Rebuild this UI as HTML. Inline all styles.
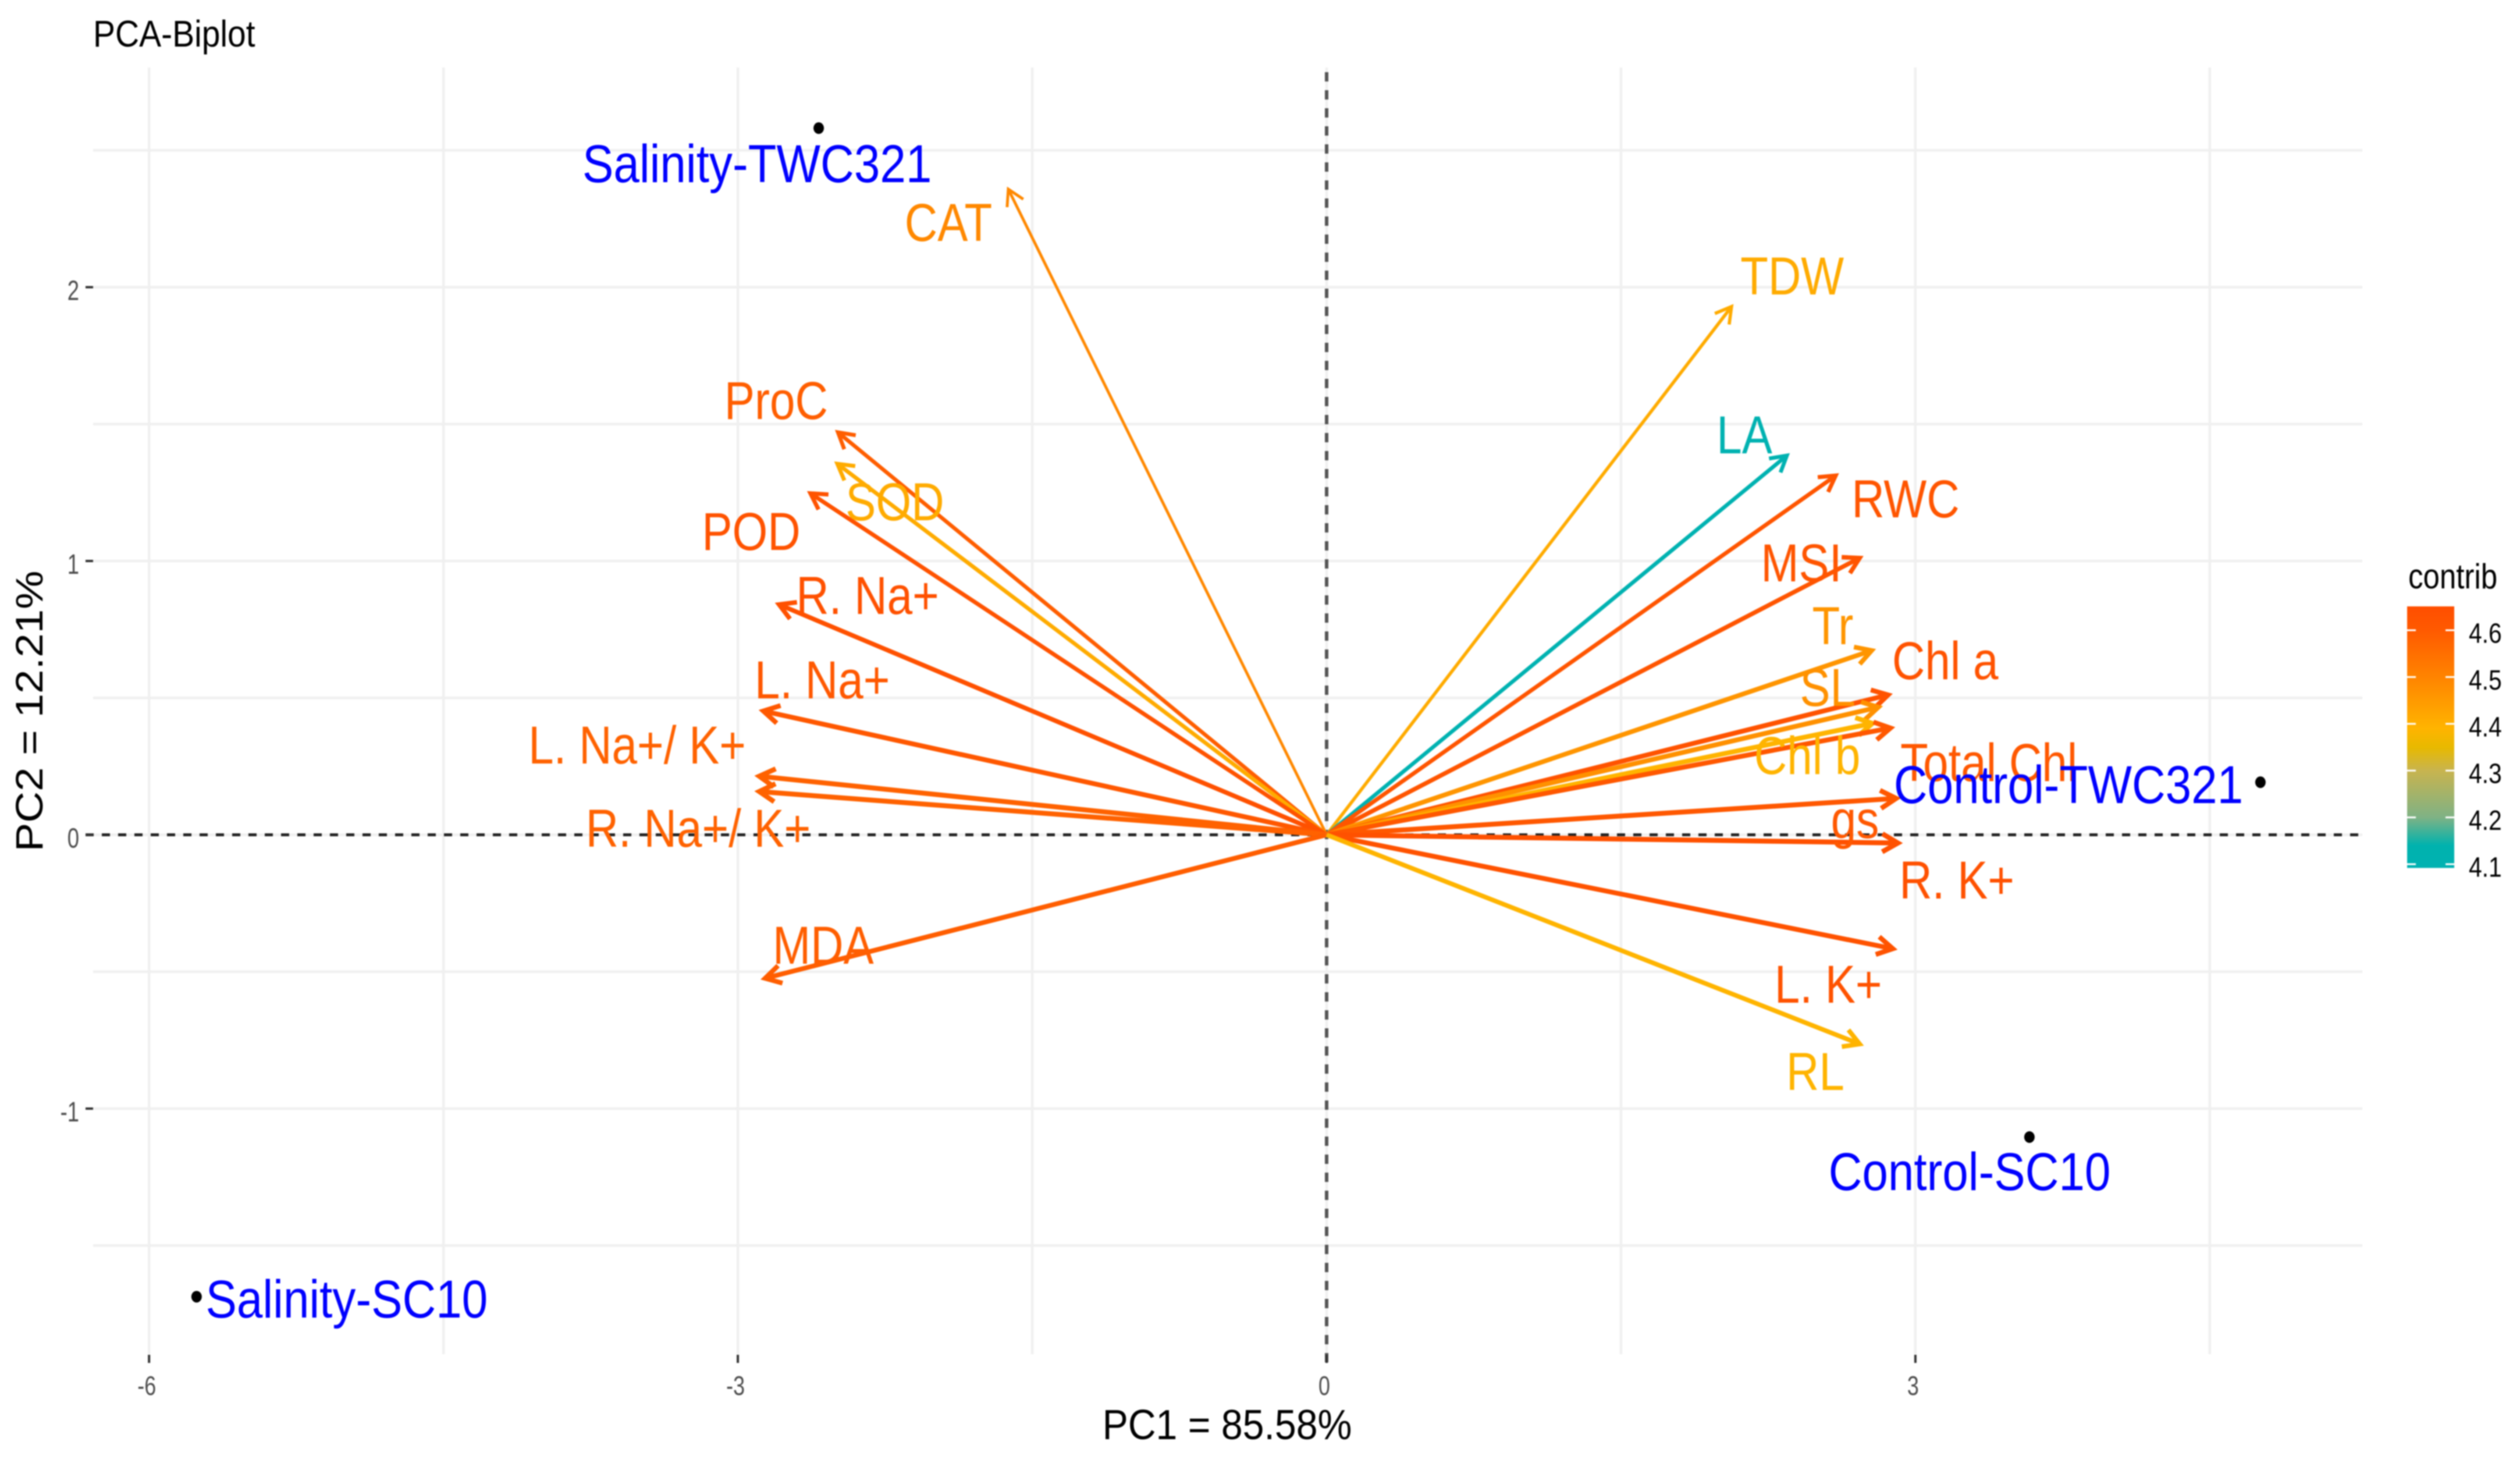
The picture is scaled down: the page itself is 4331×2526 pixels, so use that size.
<!DOCTYPE html>
<html lang="en">
<head>
<meta charset="utf-8">
<title>PCA-Biplot</title>
<style>
html,body{margin:0;padding:0;background:#fff;width:4331px;height:2526px;overflow:hidden}
svg{display:block;filter:blur(1px)}
text{font-family:"Liberation Sans",Arial,sans-serif}
</style>
</head>
<body>
<svg id="chart" xmlns="http://www.w3.org/2000/svg" width="4331" height="2526" viewBox="0 0 4331 2526">
  <rect width="4331" height="2526" fill="#ffffff"/>
  <defs>
    <linearGradient id="contrib-gradient" x1="0" y1="1" x2="0" y2="0"></linearGradient>
  </defs>
  <g id="grid"></g>
  <g id="ref"></g>
  <g id="ticks"></g>
  <g id="arrows"></g>
  <g id="varlabels"></g>
  <g id="points"></g>
  <g id="legend"></g>
  <text transform="translate(160,80) scale(.89,1)" font-size="64" fill="#000">PCA-Biplot</text>
  <text transform="translate(2109,2473) scale(.92,1)" font-size="72" text-anchor="middle" fill="#000">PC1 = 85.58%</text>
  <text transform="translate(73,1222) rotate(-90) scale(1.13,1)" font-size="66" text-anchor="middle" fill="#000">PC2 = 12.21%</text>
</svg>
<script>
// Chart data
const variables = ["CAT","ProC","SOD","POD","R. Na+","L. Na+","L. Na+/ K+","R. Na+/ K+","MDA","TDW","LA","RWC","MSI","Tr","Chl a","SL","Chl b","Total Chl","gs","R. K+","L. K+","RL"];
const varPC1 = [-1.622,-2.490,-2.493,-2.630,-2.790,-2.870,-2.891,-2.891,-2.861,2.063,2.345,2.594,2.716,2.777,2.861,2.811,2.781,2.873,2.902,2.911,2.885,2.716];
const varPC2 = [2.358,1.470,1.355,1.247,0.841,0.452,0.214,0.158,-0.524,1.929,1.385,1.312,1.011,0.673,0.511,0.466,0.407,0.390,0.133,-0.030,-0.416,-0.764];
const varContrib = [4.49,4.59,4.41,4.63,4.64,4.61,4.58,4.58,4.59,4.41,4.10,4.62,4.62,4.46,4.63,4.47,4.39,4.61,4.61,4.64,4.63,4.39];
const varLabelPC1 = [-1.927,-2.805,-2.200,-2.932,-2.339,-2.570,-3.513,-3.202,-2.565,2.372,2.129,2.950,2.419,2.579,3.152,2.553,2.449,3.374,2.692,3.211,2.556,2.490];
const varLabelPC2 = [2.169,1.519,1.149,1.040,0.807,0.498,0.260,-0.044,-0.471,1.973,1.393,1.159,0.926,0.696,0.569,0.471,0.222,0.197,-0.012,-0.233,-0.613,-0.932];
const individuals = ["Salinity-TWC321","Salinity-SC10","Control-TWC321","Control-SC10"];
const indPC1 = [-2.588,-5.758,4.758,3.581];
const indPC2 = [2.581,-1.687,0.192,-1.104];
const indLabelPC1 = [-2.902,-4.993,3.780,3.276];
const indLabelPC2 = [2.384,-1.763,0.116,-1.298];
const xMajorTicks = [-6,-3,0,3];
const xMinorGrid = [-4.5,-1.5,1.5,4.5];
const yMajorTicks = [2,1,0,-1];
const yMinorGrid = [2.5,1.5,0.5,-0.5,-1.5];
const legendTicks = [4.6,4.5,4.4,4.3,4.2,4.1];
const colorValues = [4.092,4.14,4.2,4.3,4.35,4.39,4.5,4.6,4.651];
const colorHex = ["#00b2b2","#00b2ae","#7fb285","#c8b44f","#e8b900","#ffb400","#ff8400","#ff5a00","#ff4e00"];

// Axis functions
const sx = v => 2280 + 337.3 * v;
const sy = v => 1434.5 - 470.5 * v;
const legendY = v => 1485 - 804 * (v - 4.1);
const NS = "http://www.w3.org/2000/svg";
const hex2 = h => [1,3,5].map(i => parseInt(h.substr(i,2),16));
function colorFor(v){
  if (v <= colorValues[0]) return colorHex[0];
  for (let i = 1; i < colorValues.length; i++){
    if (v <= colorValues[i]){
      const t = (v - colorValues[i-1]) / (colorValues[i] - colorValues[i-1]);
      const a = hex2(colorHex[i-1]), b = hex2(colorHex[i]);
      return "rgb(" + a.map((c,k) => Math.round(c + (b[k]-c)*t)).join(",") + ")";
    }
  }
  return colorHex[colorHex.length-1];
}
function make(parent, tag, attrs, text){
  const el = document.createElementNS(NS, tag);
  for (const k in attrs) el.setAttribute(k, attrs[k]);
  if (text !== undefined) el.textContent = text;
  parent.appendChild(el);
  return el;
}
const slug = s => s.toLowerCase().replace(/[^a-z0-9]+/g,"-").replace(/^-|-$/g,"");

// Grid
const gridG = document.getElementById("grid");
xMajorTicks.concat(xMinorGrid).forEach(v => {
  const el = make(gridG,"line",{x1:sx(v),x2:sx(v),y1:116,y2:2327,stroke:"#f0f0f0","stroke-width":4.5});
  
  
});
yMajorTicks.concat(yMinorGrid).forEach(v => {
  const el = make(gridG,"line",{x1:160,x2:4060,y1:sy(v),y2:sy(v),stroke:"#f0f0f0","stroke-width":4.5});
  
  
});

// Reference lines
const refG = document.getElementById("ref");
const hRef = make(refG,"line",{x1:147,x2:4060,y1:sy(0),y2:sy(0),stroke:"#222","stroke-width":5,"stroke-dasharray":"14 14"});


const vRef = make(refG,"line",{x1:sx(0),x2:sx(0),y1:124,y2:2342,stroke:"#555","stroke-width":6,"stroke-dasharray":"16 15"});



// Ticks
const tickG = document.getElementById("ticks");
xMajorTicks.forEach(v => {
  const t = make(tickG,"line",{x1:sx(v),x2:sx(v),y1:2328,y2:2342,stroke:"#333","stroke-width":4});
  
  
  const l = make(tickG,"text",{transform:"translate("+(sx(v)-4)+",2397) scale(.78,1)","font-size":46,fill:"#4d4d4d","text-anchor":"middle"},String(v));
  
  
});
yMajorTicks.forEach(v => {
  const t = make(tickG,"line",{x1:147,x2:160,y1:sy(v),y2:sy(v),stroke:"#333","stroke-width":4});
  
  
  const l = make(tickG,"text",{transform:"translate(136,"+(sy(v)+22)+") scale(.76,1)","font-size":48,fill:"#4d4d4d","text-anchor":"end"},String(v));
  
  
});

// Arrows and labels
const arrowG = document.getElementById("arrows");
const varLabelG = document.getElementById("varlabels");
const barbLength = 31;
const barbAngle = Math.PI / 6;
variables.forEach((name, i) => {
  const x0 = sx(0), y0 = sy(0), x1 = sx(varPC1[i]), y1 = sy(varPC2[i]);
  const dx = x1 - x0, dy = y1 - y0, len = Math.hypot(dx, dy);
  const w = 4 + 4.5 * (dx / len) * (dx / len);
  const col = colorFor(varContrib[i]);
  const ang = Math.atan2(y0 - y1, x0 - x1);
  const bx1 = x1 + barbLength * Math.cos(ang + barbAngle), by1 = y1 + barbLength * Math.sin(ang + barbAngle);
  const bx2 = x1 + barbLength * Math.cos(ang - barbAngle), by2 = y1 + barbLength * Math.sin(ang - barbAngle);
  const g = make(arrowG,"g",{fill:"none",stroke:col,"stroke-width":w,"stroke-linejoin":"miter"});
  
  
  make(g,"line",{x1:x0,y1:y0,x2:x1,y2:y1});
  make(g,"polyline",{points:bx1+","+by1+" "+x1+","+y1+" "+bx2+","+by2});
  const t = make(varLabelG,"text",{transform:"translate("+sx(varLabelPC1[i])+","+sy(varLabelPC2[i])+") scale(.85,1)","font-size":92,fill:col,"text-anchor":"middle"},name);
  
  
});

// Individuals
const pointG = document.getElementById("points");
individuals.forEach((name, i) => {
  const c = make(pointG,"ellipse",{cx:sx(indPC1[i]),cy:sy(indPC2[i]),rx:9,ry:10,fill:"#000"});
  
  
  const t = make(pointG,"text",{transform:"translate("+sx(indLabelPC1[i])+","+sy(indLabelPC2[i])+") scale(.87,1)","font-size":92,fill:"#0000ff","text-anchor":"middle"},name);
  
  
});

// Legend
const grad = document.getElementById("contrib-gradient");
colorValues.forEach((v, i) => {
  const offset = (v - colorValues[0]) / (colorValues[colorValues.length-1] - colorValues[0]);
  make(grad,"stop",{offset:offset,"stop-color":colorHex[i]});
});
const legendG = document.getElementById("legend");
const legendTitle = make(legendG,"text",{transform:"translate(4139,1011) scale(.85,1)","font-size":60,fill:"#000"},"contrib");


const legendBar = make(legendG,"rect",{x:4137,y:legendY(colorValues[colorValues.length-1]),width:81,height:legendY(colorValues[0])-legendY(colorValues[colorValues.length-1]),fill:"url(#contrib-gradient)"});


legendTicks.forEach(v => {
  const y = legendY(v);
  const a = make(legendG,"line",{x1:4137,x2:4152,y1:y,y2:y,stroke:"#fff","stroke-width":3});
  
  
  const b = make(legendG,"line",{x1:4203,x2:4218,y1:y,y2:y,stroke:"#fff","stroke-width":3});
  
  
  const t = make(legendG,"text",{transform:"translate(4243,"+(y+21.5)+") scale(.85,1)","font-size":48,fill:"#000"},v.toFixed(1));
  
  
});
</script>
</body>
</html>
